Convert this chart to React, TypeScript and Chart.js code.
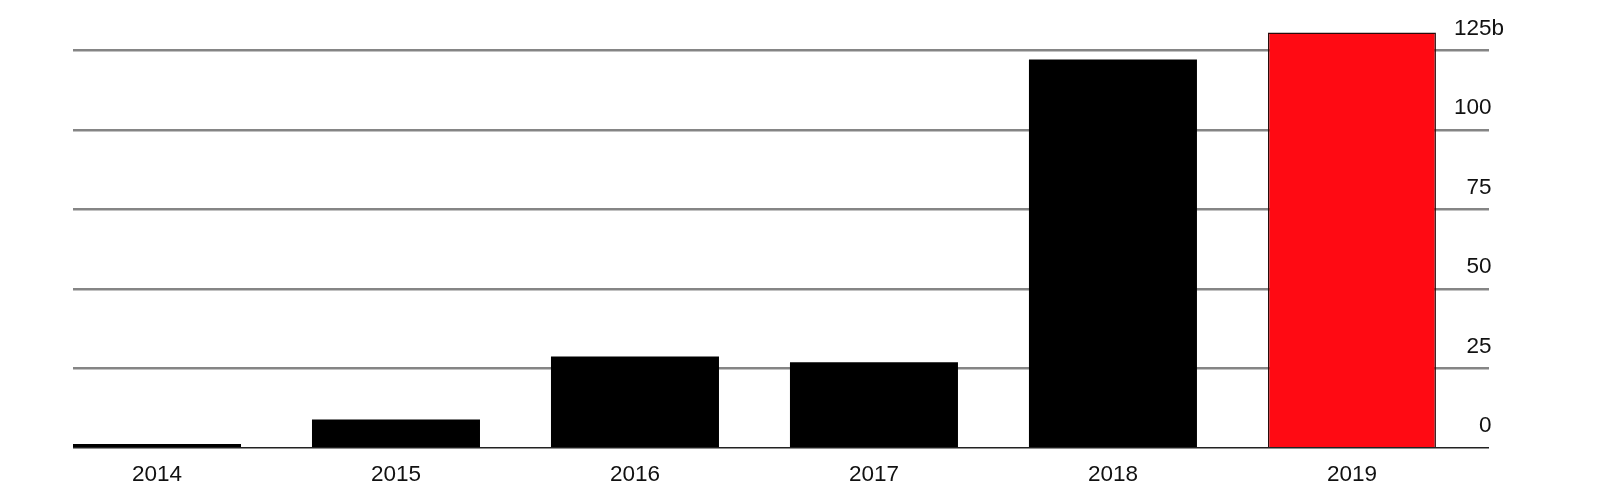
import React, { useEffect, useRef } from 'react';
import { Chart, registerables } from 'chart.js';

Chart.register(...registerables);

const years: string[] = ['2014', '2015', '2016', '2017', '2018', '2019'];
const values: number[] = [1.2, 8.9, 28.7, 26.9, 122.2, 130.7];
const barColors: string[] = ['#000000', '#000000', '#000000', '#000000', '#000000', '#ff0a13'];
const barBorderColors: string[] = ['#000000', '#000000', '#000000', '#000000', '#000000', '#2a0a0a'];
const barBorderWidths: number[] = [0, 0, 0, 0, 0, 1.5];
const yTickValues: number[] = [0, 25, 50, 75, 100, 125];
const unitSuffix = 'b';

const FONT = "'Liberation Sans', Arial, Helvetica, sans-serif";

export default function App() {
  const canvasRef = useRef<HTMLCanvasElement | null>(null);

  useEffect(() => {
    document.body.style.margin = '0';
    const canvas = canvasRef.current;
    if (!canvas) return;
    const firstYear = Number(years[0]);
    const lastYear = Number(years[years.length - 1]);
    const barPct = 0.703;
    const topTick = yTickValues[yTickValues.length - 1];

    const chart = new Chart(canvas, {
      type: 'bar',
      data: {
        labels: years,
        datasets: [
          {
            data: values,
            backgroundColor: barColors,
            borderColor: barBorderColors,
            borderWidth: barBorderWidths,
            categoryPercentage: 1,
            barPercentage: barPct,
          },
        ],
      },
      options: {
        responsive: false,
        animation: false,
        devicePixelRatio: 1,
        layout: { padding: { left: 73, right: 111, top: 12.6, bottom: 0 } },
        plugins: {
          legend: { display: false },
          tooltip: { enabled: false },
        },
        scales: {
          x: {
            type: 'linear',
            offset: false,
            min: firstYear - barPct / 2,
            max: lastYear + 0.5735,
            grid: { display: false, offset: false },
            border: { display: false },
            ticks: {
              stepSize: 1,
              includeBounds: false,
              maxRotation: 0,
              autoSkip: false,
              padding: 6,
              color: '#111111',
              font: { family: FONT, size: 22.5 },
              callback: (v: any) => String(v),
            },
            afterFit: (s: any) => {
              s.height = 46.3;
              s.paddingLeft = 0;
              s.paddingRight = 0;
            },
          },
          y: {
            position: 'right',
            min: 0,
            max: 137,
            grid: {
              drawTicks: false,
              color: (ctx: any) => (ctx.tick && ctx.tick.value === 0 ? '#222222' : '#858585'),
              lineWidth: (ctx: any) => (ctx.tick && ctx.tick.value === 0 ? 1.5 : 2.5),
            },
            border: { display: false },
            ticks: {
              stepSize: 25,
              includeBounds: false,
              mirror: true,
              padding: 15,
              labelOffset: -22,
              color: '#111111',
              font: { family: FONT, size: 22.5 },
              callback: (v: any) => (v === topTick ? `${v}${unitSuffix}` : `${v}\u2007`),
            },
            afterFit: (s: any) => {
              s.width = 0;
              s.paddingTop = 0;
              s.paddingBottom = 0;
              s.paddingLeft = 0;
              s.paddingRight = 0;
            },
          },
        },
      },
    });
    return () => chart.destroy();
  }, []);

  return (
    <div style={{ width: 1600, height: 494, background: '#ffffff' }}>
      <canvas ref={canvasRef} width={1600} height={494} />
    </div>
  );
}
